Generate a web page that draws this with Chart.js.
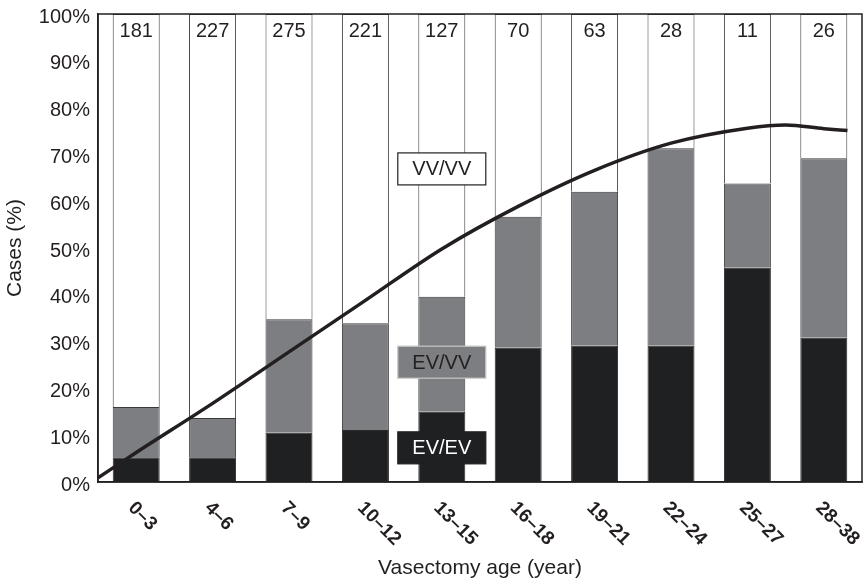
<!DOCTYPE html>
<html>
<head>
<meta charset="utf-8">
<title>Vasectomy age</title>
<script src="https://cdn.jsdelivr.net/npm/chart.js@4.4.1/dist/chart.umd.min.js"></script>
<style>
    html, body { margin: 0; padding: 0; background: #fff; }
    #wrap { width: 867px; height: 581px; }
</style>
</head>
<body>
<div id="wrap"><canvas id="myChart"></canvas></div>
<script>
// categories and values
const ageGroups = ['0\u20133', '4\u20136', '7\u20139', '10\u201312', '13\u201315', '16\u201318', '19\u201321', '22\u201324', '25\u201327', '28\u201338'];
const caseCounts = [181, 227, 275, 221, 127, 70, 63, 28, 11, 26];
const evEv = [5.3, 5.3, 10.5, 11.1, 15.0, 28.7, 29.1, 29.1, 45.8, 30.8];
const evVv = [10.7, 8.4, 24.3, 22.8, 24.6, 28.0, 32.9, 42.2, 18.0, 38.4];
const vvVv = [84.0, 86.3, 65.2, 66.1, 60.4, 43.3, 38.0, 28.7, 36.2, 30.8];

// trend curve, x = category index
const trendX = [-0.5, 0, 1, 2, 3, 4, 5, 6, 7, 8, 8.5, 9, 9.31];
const trendY = [0.9, 6.3, 16.8, 27.8, 38.8, 49.8, 58.9, 66.6, 72.4, 75.6, 76.3, 75.5, 75.1];

const yTicks = [0, 10, 20, 30, 40, 50, 60, 70, 80, 90, 100];

const INK = '#231f20';
const GREY = '#7d7e82';
const BLACK = '#1f2022';
const FONT = '"Liberation Sans", Arial, Helvetica, sans-serif';

// inline group labels: [text, fill, text colour, border, category, y value]
const groupLabels = [
    ['VV/VV', '#ffffff', INK, INK, 4, 66.9],
    ['EV/VV', GREY, INK, '#c8c8c8', 4, 25.6],
    ['EV/EV', BLACK, '#ffffff', BLACK, 4, 7.3]
];

const extras = {
    id: 'extras',
    afterDatasetsDraw(chart) {
        const { ctx, chartArea: a, scales: { x, y } } = chart;
        ctx.save();

        // frame top + right
        ctx.strokeStyle = INK;
        ctx.lineWidth = 1.5;
        ctx.strokeRect(a.left, a.top, a.right - a.left, a.bottom - a.top);

        // counts at top of each bar
        ctx.fillStyle = INK;
        ctx.font = '20px ' + FONT;
        ctx.textAlign = 'center';
        ctx.textBaseline = 'middle';
        caseCounts.forEach((n, i) => ctx.fillText(String(n), x.getPixelForValue(i), y.getPixelForValue(96.3)));

        // group label boxes
        groupLabels.forEach(([txt, fill, col, border, cat, val]) => {
            const cx = x.getPixelForValue(cat);
            const cy = y.getPixelForValue(val);
            const w = 88, h = 32;
            ctx.fillStyle = fill;
            ctx.fillRect(cx - w / 2, cy - h / 2, w, h);
            ctx.strokeStyle = border;
            ctx.lineWidth = 1.2;
            ctx.strokeRect(cx - w / 2, cy - h / 2, w, h);
            ctx.fillStyle = col;
            ctx.fillText(txt, cx, cy + 1);
        });

        // rotated category labels (slanting down to the right)
        ctx.fillStyle = INK;
        ctx.font = 'bold 19px ' + FONT;
        ctx.textAlign = 'left';
        ageGroups.forEach((lab, i) => {
            ctx.save();
            ctx.translate(x.getPixelForValue(i) - 5, a.bottom + 23);
            ctx.rotate(Math.PI / 4);
            ctx.fillText(lab, 0, 0);
            ctx.restore();
        });
        ctx.restore();
    }
};

const ctx = document.getElementById('myChart').getContext('2d');
const myChart = new Chart(ctx, {
    type: 'bar',
    data: {
        labels: ageGroups,
        datasets: [
            {
                type: 'line',
                label: 'Trend',
                data: trendX.map((v, i) => ({ x: v, y: trendY[i] })),
                xAxisID: 'x2',
                borderColor: INK,
                borderWidth: 3.5,
                pointRadius: 0,
                cubicInterpolationMode: 'monotone',
                fill: false,
                order: 0
            },
            { label: 'EV/EV', data: evEv, backgroundColor: BLACK, borderColor: '#2a2a2a', borderWidth: 1, order: 1 },
            { label: 'EV/VV', data: evVv, backgroundColor: GREY, borderColor: '#3a3a3a', borderWidth: 1, order: 1 },
            { label: 'VV/VV', data: vvVv, backgroundColor: '#ffffff', borderColor: '#3a3a3a', borderWidth: 1, order: 1 }
        ]
    },
    options: {
        responsive: true,
        maintainAspectRatio: false,
        animation: false,
        layout: { padding: { top: 14, right: 5, left: 0, bottom: 0 } },
        datasets: { bar: { categoryPercentage: 1, barPercentage: 0.615, grouped: false } },
        plugins: { legend: { display: false }, tooltip: { enabled: false } },
        scales: {
            x: {
                stacked: true,
                grid: { display: false },
                border: { display: true, color: INK, width: 1.5 },
                ticks: { display: false },
                title: {
                    display: true,
                    text: 'Vasectomy age (year)',
                    color: INK,
                    font: { family: FONT, size: 21 },
                    padding: { top: 0, bottom: 0 }
                },
                afterFit: (s) => { s.height = 99; s.paddingLeft = 0; s.paddingRight = 0; }
            },
            x2: {
                type: 'linear',
                display: false,
                offset: false,
                min: -0.5,
                max: 9.5
            },
            y: {
                stacked: true,
                min: 0,
                max: 100,
                grid: { display: false, drawTicks: false },
                border: { display: true, color: INK, width: 1.5 },
                afterBuildTicks: (s) => { s.ticks = yTicks.map(v => ({ value: v })); },
                ticks: {
                    padding: 8,
                    labelOffset: 3,
                    color: INK,
                    font: { family: FONT, size: 20 },
                    callback: (v) => v + '%'
                },
                title: {
                    display: true,
                    text: 'Cases (%)',
                    color: INK,
                    font: { family: FONT, size: 21 },
                    padding: { top: 3, bottom: 0 }
                },
                afterFit: (s) => { s.width = 98; s.paddingTop = 0; s.paddingBottom = 0; }
            }
        }
    },
    plugins: [extras]
});
</script>
</body>
</html>
